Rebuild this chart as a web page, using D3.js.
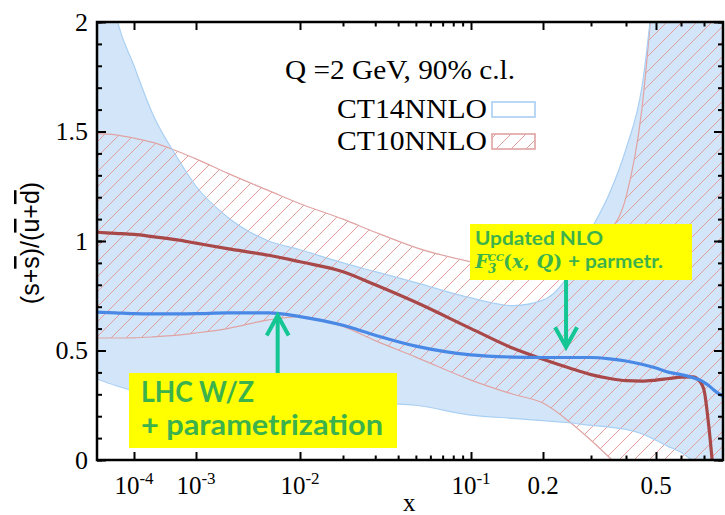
<!DOCTYPE html>
<html>
<head>
<meta charset="utf-8">
<script src="https://cdn.jsdelivr.net/npm/d3@7"></script>
<style>
  body { margin: 0; background: #fff; }
  svg { display: block; }
  .serif { font-family: "Liberation Serif", "Times New Roman", serif; }
</style>
</head>
<body>
<div id="chart"></div>
<script>
// 1: DATA
const xGrid = [2.5e-5, 5e-5, 1e-4, 2e-4, 5e-4, 1e-3, 2e-3, 5e-3, 1e-2, 2e-2, 3e-2, 5e-2,
  0.1, 0.15, 0.2, 0.25, 0.3, 0.35, 0.4, 0.45, 0.5, 0.55, 0.6, 0.65, 0.68, 0.7, 0.72, 0.74, 0.785];

const ct14Central = [0.675, 0.672, 0.668, 0.667, 0.667, 0.668, 0.672, 0.672, 0.655, 0.615, 0.57, 0.52,
  0.48, 0.47, 0.468, 0.468, 0.468, 0.462, 0.452, 0.437, 0.42, 0.40, 0.39, 0.376, 0.365, 0.355, 0.34, 0.322, 0.29];
const ct14Upper = [2.6, 2.04, 1.80, 1.58, 1.38, 1.25, 1.11, 1.00, 0.96, 0.90, 0.86, 0.81,
  0.74, 0.705, 0.73, 0.85, 1.05, 1.22, 1.42, 1.70, 2.25, 2.8, 3.5, 3.5, 3.5, 3.5, 3.5, 3.5, 3.5];
const ct14Lower = [0.37, 0.34, 0.315, 0.295, 0.28, 0.275, 0.27, 0.268, 0.265, 0.262, 0.26, 0.25,
  0.205, 0.19, 0.18, 0.17, 0.158, 0.15, 0.14, 0.12, 0.09, 0.06, 0.035, -0.005, -0.03, -0.05, -0.08, -0.1, -0.15];

const ct10Central = [1.04, 1.035, 1.03, 1.02, 1.005, 0.99, 0.965, 0.935, 0.905, 0.86, 0.80, 0.72,
  0.60, 0.51, 0.46, 0.42, 0.39, 0.372, 0.362, 0.36, 0.365, 0.372, 0.378, 0.38, 0.36, 0.32, 0.16, -0.05, -0.5];
const ct10Upper = [1.49, 1.485, 1.47, 1.45, 1.41, 1.375, 1.31, 1.23, 1.17, 1.10, 1.04, 0.97,
  0.905, 0.87, 0.86, 0.875, 0.94, 1.04, 1.2, 1.6, 2.3, 3.0, 3.5, 3.5, 3.5, 3.5, 3.5, 3.5, 3.5];
const ct10Lower = [0.557, 0.557, 0.558, 0.562, 0.57, 0.58, 0.60, 0.64, 0.655, 0.61, 0.545, 0.47,
  0.365, 0.30, 0.26, 0.175, 0.09, 0.01, -0.06, -0.1, -0.2, -0.2, -0.2, -0.2, -0.2, -0.2, -0.2, -0.2, -0.2];

const yTicks = [0, 0.5, 1, 1.5, 2];
const yMinor = d3.range(0, 2.01, 0.1);
const xMajor = [1e-4, 1e-3, 1e-2, 0.1, 0.2, 0.5];
const xMinor = [0.02, 0.03, 0.04, 0.05, 0.06, 0.07, 0.08, 0.09, 0.3, 0.4, 0.6, 0.7];
const xTickLabels = [["10", "-4"], ["10", "-3"], ["10", "-2"], ["10", "-1"], ["0.2", ""], ["0.5", ""]];

// 2: LAYOUT
const W = 725, H = 515;
const margin = { top: 22, right: 2, bottom: 55, left: 97 };
const width = W - margin.left - margin.right;
const height = H - margin.top - margin.bottom;

const svg = d3.select("#chart").append("svg")
  .attr("width", W).attr("height", H);

const defs = svg.append("defs");
defs.append("clipPath").attr("id", "plotClip")
  .append("rect").attr("width", width).attr("height", height);

const hatch = defs.append("pattern").attr("id", "hatch")
  .attr("patternUnits", "userSpaceOnUse")
  .attr("width", 15).attr("height", 15);
hatch.append("path")
  .attr("d", "M-2,2 L2,-2 M0,15 L15,0 M13,17 L17,13")
  .attr("stroke", "#e39d9d").attr("stroke-width", 1).attr("fill", "none");

const g = svg.append("g").attr("transform", `translate(${margin.left},${margin.top})`);

// 3: SCALES  (x axis is a stretched log scale, piecewise in log10 x)
const xKnots = [2.5e-5, 1e-4, 1e-3, 1e-2, 2e-2, 0.1, 0.2, 0.3, 0.4, 0.5, 0.6, 0.7, 0.785];
const xKnotPx = [0, 37, 99, 203, 246, 374, 446, 494, 529, 559, 584, 607, 626];
const xLog = d3.scaleLinear().domain(xKnots.map(Math.log10)).range(xKnotPx);
const x = v => xLog(Math.log10(v));
const y = d3.scaleLinear().domain([0, 2]).range([height, 0]);

const idx = d3.range(xGrid.length);
const bandArea = (lo, hi) => d3.area()
  .x(i => x(xGrid[i])).y0(i => y(lo[i])).y1(i => y(hi[i]))
  .curve(d3.curveMonotoneX);
const lineOf = arr => d3.line()
  .x(i => x(xGrid[i])).y(i => y(arr[i]))
  .curve(d3.curveMonotoneX);

// 4: PLOT BANDS AND CURVES
const plot = g.append("g").attr("clip-path", "url(#plotClip)");

plot.append("path").datum(idx)
  .attr("d", bandArea(ct14Lower, ct14Upper))
  .attr("fill", "#d3e6f9");

plot.append("path").datum(idx)
  .attr("d", bandArea(ct10Lower, ct10Upper))
  .attr("fill", "url(#hatch)");

[ct10Upper, ct10Lower].forEach(arr => {
  plot.append("path").datum(idx)
    .attr("d", lineOf(arr))
    .attr("fill", "none").attr("stroke", "#e0a3a3").attr("stroke-width", 1.2);
});
[ct14Upper, ct14Lower].forEach(arr => {
  plot.append("path").datum(idx)
    .attr("d", lineOf(arr))
    .attr("fill", "none").attr("stroke", "#a9cff3").attr("stroke-width", 1.2);
});

plot.append("path").datum(idx)
  .attr("d", lineOf(ct10Central))
  .attr("fill", "none").attr("stroke", "#a84848").attr("stroke-width", 3.2);
plot.append("path").datum(idx)
  .attr("d", lineOf(ct14Central))
  .attr("fill", "none").attr("stroke", "#4a88e6").attr("stroke-width", 3.2);

// 5: AXES (ticks point inward on all four sides)
function styleAxis(sel) {
  sel.select(".domain").remove();
  sel.selectAll("line").attr("stroke", "#000").attr("stroke-width", 2);
}
const xTicksLog = xMajor.map(Math.log10);
const xMinorLog = xMinor.map(Math.log10);

g.append("g").attr("transform", `translate(0,${height})`)
  .call(d3.axisBottom(xLog).tickValues(xTicksLog).tickSize(-8).tickFormat(""))
  .call(styleAxis);
g.append("g").attr("transform", `translate(0,${height})`)
  .call(d3.axisBottom(xLog).tickValues(xMinorLog).tickSize(-4.5).tickFormat(""))
  .call(styleAxis);
g.append("g")
  .call(d3.axisTop(xLog).tickValues(xTicksLog).tickSize(-8).tickFormat(""))
  .call(styleAxis);
g.append("g")
  .call(d3.axisTop(xLog).tickValues(xMinorLog).tickSize(-4.5).tickFormat(""))
  .call(styleAxis);

g.append("g")
  .call(d3.axisLeft(y).tickValues(yMinor).tickSize(-5).tickFormat(""))
  .call(styleAxis);
g.append("g").attr("transform", `translate(${width},0)`)
  .call(d3.axisRight(y).tickValues(yMinor).tickSize(-5).tickFormat(""))
  .call(styleAxis);
g.append("g").attr("transform", `translate(${width},0)`)
  .call(d3.axisRight(y).tickValues(yTicks).tickSize(-9).tickFormat(""))
  .call(styleAxis);

const yAxis = g.append("g")
  .call(d3.axisLeft(y).tickValues(yTicks).tickSizeInner(-9).tickSizeOuter(0).tickPadding(9)
    .tickFormat(d => d3.format("")(d)))
  .call(styleAxis);
yAxis.attr("font-family", null).attr("font-size", null);
yAxis.selectAll("text")
  .attr("class", "serif")
  .style("font-size", "26px").attr("fill", "#000");

g.append("rect")
  .attr("width", width).attr("height", height)
  .attr("fill", "none").attr("stroke", "#000").attr("stroke-width", 2.5);

// x tick labels with superscripts
const xLab = g.append("g").attr("class", "serif").attr("fill", "#000");
xMajor.forEach((v, i) => {
  const [base, exp] = xTickLabels[i];
  const t = xLab.append("text")
    .attr("x", x(v)).attr("y", height + 34)
    .attr("text-anchor", "middle").style("font-size", "25px");
  t.append("tspan").text(base);
  if (exp) t.append("tspan").style("font-size", "17px").attr("dy", -10).text(exp);
});

g.append("text")
  .attr("class", "serif")
  .attr("x", x(0.046)).attr("y", height + 51)
  .attr("text-anchor", "middle")
  .style("font-size", "25px").text("x");

// y axis title  (s+s̄)/(ū+d̄)
const yTitle = svg.append("text")
  .attr("transform", "translate(39,243) rotate(-90)")
  .attr("text-anchor", "middle")
  .attr("font-family", "'Liberation Sans', Arial, sans-serif")
  .attr("font-size", 25);
yTitle.append("tspan").text("(s+");
yTitle.append("tspan").style("text-decoration", "overline").text("s");
yTitle.append("tspan").text(")/(");
yTitle.append("tspan").style("text-decoration", "overline").text("u");
yTitle.append("tspan").text("+");
yTitle.append("tspan").style("text-decoration", "overline").text("d");
yTitle.append("tspan").text(")");

// 6: LEGEND
svg.append("text").attr("class", "serif")
  .attr("x", 515).attr("y", 79).attr("text-anchor", "end")
  .style("font-size", "27px")
  .attr("textLength", 230).attr("lengthAdjust", "spacingAndGlyphs")
  .text("Q =2 GeV, 90% c.l.");
svg.append("text").attr("class", "serif")
  .attr("x", 487).attr("y", 118).attr("text-anchor", "end")
  .style("font-size", "27px")
  .attr("textLength", 150).attr("lengthAdjust", "spacingAndGlyphs")
  .text("CT14NNLO");
svg.append("text").attr("class", "serif")
  .attr("x", 487).attr("y", 150).attr("text-anchor", "end")
  .style("font-size", "27px")
  .attr("textLength", 150).attr("lengthAdjust", "spacingAndGlyphs")
  .text("CT10NNLO");
svg.append("rect")
  .attr("x", 492).attr("y", 102).attr("width", 43).attr("height", 15)
  .attr("fill", "#fff").attr("stroke", "#a9cff3").attr("stroke-width", 1.6);
svg.append("rect")
  .attr("x", 492).attr("y", 134).attr("width", 43).attr("height", 15)
  .attr("fill", "url(#hatch)").attr("stroke", "#dfa3a3").attr("stroke-width", 1.6);

// 7: ANNOTATIONS
const green = "#3cb24c";
const arrowCol = "#14c693";
const annFont = "'Lato', 'Liberation Sans', sans-serif";

svg.append("rect").attr("x", 129).attr("y", 373).attr("width", 268).attr("height", 75)
  .attr("fill", "#ffff00");
svg.append("text").attr("x", 141).attr("y", 402)
  .attr("font-family", annFont).attr("font-weight", "bold").attr("font-size", 28)
  .attr("fill", green).attr("textLength", 113).attr("lengthAdjust", "spacingAndGlyphs")
  .text("LHC W/Z");
svg.append("text").attr("x", 141).attr("y", 435)
  .attr("font-family", annFont).attr("font-weight", "bold").attr("font-size", 28)
  .attr("fill", green).attr("textLength", 242).attr("lengthAdjust", "spacingAndGlyphs")
  .text("+ parametrization");

svg.append("rect").attr("x", 470).attr("y", 224).attr("width", 222).attr("height", 56)
  .attr("fill", "#ffff00");
svg.append("text").attr("x", 475).attr("y", 245)
  .attr("font-family", annFont).attr("font-weight", "bold").attr("font-size", 19)
  .attr("fill", green).attr("textLength", 128).attr("lengthAdjust", "spacingAndGlyphs")
  .text("Updated NLO");
const f3 = svg.append("text").attr("y", 268)
  .attr("font-family", "'DejaVu Serif', 'Liberation Serif', serif")
  .attr("font-style", "italic").attr("font-weight", "bold")
  .attr("fill", green).attr("font-size", 19);
f3.append("tspan").attr("x", 475).text("F");
f3.append("tspan").attr("x", 488).attr("dy", 5).attr("font-size", 12).text("3");
f3.append("tspan").attr("x", 488).attr("dy", -12).attr("font-size", 10).text("CC");
f3.append("tspan").attr("x", 503).attr("dy", 7).attr("font-style", "normal").text("(");
f3.append("tspan").text("x");
f3.append("tspan").attr("font-style", "normal").text(", ");
f3.append("tspan").text("Q");
f3.append("tspan").attr("font-style", "normal").text(")");
svg.append("text").attr("x", 568).attr("y", 268)
  .attr("font-family", annFont).attr("font-weight", "bold").attr("font-size", 19)
  .attr("fill", green).attr("textLength", 95).attr("lengthAdjust", "spacingAndGlyphs")
  .text("+ parmetr.");

// arrows pointing at the curves
function arrow(x0, yFrom, yTip) {
  const px = margin.left + x(x0);
  const tip = margin.top + y(yTip);
  const dir = yFrom > tip ? 1 : -1;
  svg.append("line")
    .attr("x1", px).attr("x2", px).attr("y1", yFrom).attr("y2", tip + dir * 3)
    .attr("stroke", arrowCol).attr("stroke-width", 4);
  svg.append("path")
    .attr("d", `M${px - 11},${tip + dir * 20} L${px},${tip} L${px + 11},${tip + dir * 20}`)
    .attr("fill", "none").attr("stroke", arrowCol).attr("stroke-width", 4)
    .attr("stroke-linejoin", "miter");
}
arrow(6.1e-3, 373, 0.66);
arrow(0.243, 280, 0.515);
</script>
</body>
</html>
